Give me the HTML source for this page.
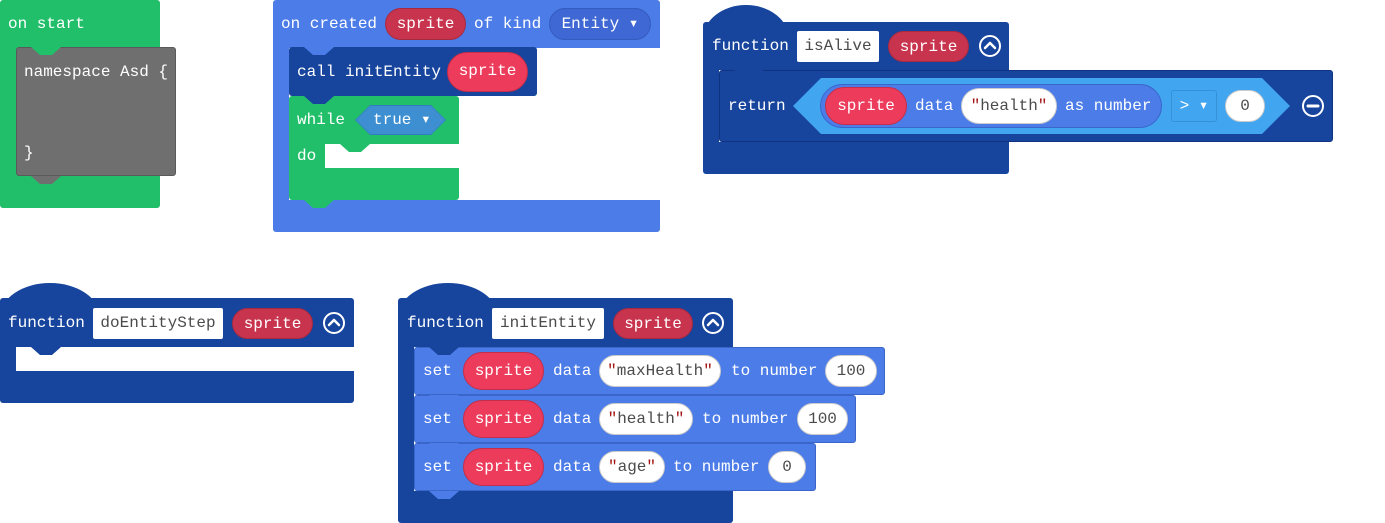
<!DOCTYPE html>
<html><head><meta charset="utf-8"><style>
body{margin:0;width:1385px;height:523px;background:#fff;position:relative;overflow:hidden;font-family:"Liberation Mono",monospace;font-size:16px;}
div{position:absolute;box-sizing:border-box;}
.t{color:#fff;white-space:nowrap;line-height:20px;}
.g{background:#22bf6b;}
.b{background:#4c7ce8;}
.d{background:#17449c;}
.pill{border-radius:20px;text-align:center;color:#fff;line-height:30px;white-space:nowrap;}
.rs{background:#c8344e;border:1px solid #a82a40;}
.rb{background:#ec3b5b;border:1px solid #c42e4a;line-height:36px;}
.w{background:#fff;color:#4b4b4b;text-align:center;white-space:nowrap;line-height:30px;}
.ws{background:#fff;color:#4b4b4b;border-radius:18px;text-align:center;line-height:30px;white-space:nowrap;border:1px solid #ccc;}
.q{color:#a31515;}
.circ{width:24px;height:24px;}
.hat{border-radius:50% 50% 0 0/100% 100% 0 0;}
</style></head><body>

<!-- on start -->
<div class="g" style="left:0;top:0;width:160px;height:208px;border-radius:3px"></div>
<div class="t" style="left:8px;top:14px">on start</div>
<div style="left:16px;top:47px;width:160px;height:129px;background:#6f6f6f;border:1px solid #5a5a5a;border-radius:3px"></div>
<div style="left:31px;top:47px;width:30px;height:8px;background:#22bf6b;clip-path:polygon(0 0,100% 0,70% 100%,30% 100%)"></div>
<div style="left:31px;top:176px;width:30px;height:8px;background:#6f6f6f;clip-path:polygon(0 0,100% 0,70% 100%,30% 100%)"></div>
<div class="t" style="left:24px;top:62px">namespace Asd {</div>
<div class="t" style="left:24px;top:143px">}</div>

<!-- on created -->
<div class="b" style="left:273px;top:0;width:387px;height:48px;border-radius:3px 3px 0 0"></div>
<div class="b" style="left:273px;top:48px;width:16px;height:152px"></div>
<div class="b" style="left:273px;top:200px;width:387px;height:32px;border-radius:0 0 3px 3px"></div>
<div class="t" style="left:281px;top:14px">on created</div>
<div class="pill rs" style="left:385px;top:8px;width:81px;height:32px">sprite</div>
<div class="t" style="left:474px;top:14px">of kind</div>
<div class="pill" style="left:549px;top:8px;width:102px;height:32px;background:#3f68d4;border:1px solid #345bc0">Entity ▾</div>
<div class="d" style="left:289px;top:47px;width:248px;height:49px;border-radius:3px"></div>
<div style="left:304px;top:47px;width:30px;height:8px;background:#4c7ce8;clip-path:polygon(0 0,100% 0,70% 100%,30% 100%)"></div>
<div class="t" style="left:297px;top:62px">call initEntity</div>
<div class="pill rb" style="left:447px;top:52px;width:81px;height:40px">sprite</div>
<div class="g" style="left:289px;top:96px;width:170px;height:48px;border-radius:3px 3px 0 0"></div>
<div class="g" style="left:289px;top:144px;width:36px;height:24px"></div>
<div class="g" style="left:289px;top:168px;width:170px;height:32px;border-radius:0 0 3px 3px"></div>
<div style="left:304px;top:96px;width:30px;height:8px;background:#17449c;clip-path:polygon(0 0,100% 0,70% 100%,30% 100%)"></div>
<div style="left:340px;top:144px;width:30px;height:8px;background:#22bf6b;clip-path:polygon(0 0,100% 0,70% 100%,30% 100%)"></div>
<div style="left:304px;top:200px;width:30px;height:8px;background:#22bf6b;clip-path:polygon(0 0,100% 0,70% 100%,30% 100%)"></div>
<div class="t" style="left:297px;top:110px">while</div>
<div class="t" style="left:297px;top:146px">do</div>
<div style="left:355px;top:105px;width:91px;height:30px;background:#2f7dbe;clip-path:polygon(0 50%,15px 0,calc(100% - 15px) 0,100% 50%,calc(100% - 15px) 100%,15px 100%)"></div>
<div style="left:356px;top:106px;width:89px;height:28px;background:#3d8fd1;clip-path:polygon(0 50%,14px 0,calc(100% - 14px) 0,100% 50%,calc(100% - 14px) 100%,14px 100%)"></div>
<div class="t" style="left:373px;top:110px">true ▾</div>

<!-- isAlive -->
<div class="d hat" style="left:703px;top:5px;width:86px;height:34px"></div>
<div class="d" style="left:703px;top:22px;width:306px;height:48px;border-radius:3px 3px 0 0"></div>
<div class="d" style="left:703px;top:70px;width:16px;height:72px"></div>
<div class="d" style="left:703px;top:142px;width:306px;height:32px;border-radius:0 0 3px 3px"></div>
<div class="t" style="left:712px;top:36px">function</div>
<div class="w" style="left:797px;top:31px;width:82px;height:31px;border-radius:2px">isAlive</div>
<div class="pill rs" style="left:888px;top:31px;width:81px;height:31px">sprite</div>
<svg class="circ" style="position:absolute;left:978px;top:34px" width="24" height="24"><circle cx="12" cy="12" r="10" fill="none" stroke="#fff" stroke-width="2"/><path d="M7 14 L12 9 L17 14" fill="none" stroke="#fff" stroke-width="2.5" stroke-linecap="round" stroke-linejoin="round"/></svg>
<div class="d" style="left:719px;top:70px;width:614px;height:72px;border:1px solid #0f3380;border-radius:3px"></div>
<div style="left:734px;top:70px;width:30px;height:8px;background:#17449c;clip-path:polygon(0 0,100% 0,70% 100%,30% 100%)"></div>
<div class="t" style="left:728px;top:96px">return</div>
<div style="left:793px;top:78px;width:497px;height:56px;background:#42a5f0;clip-path:polygon(0 50%,28px 0,calc(100% - 28px) 0,100% 50%,calc(100% - 28px) 100%,28px 100%)"></div>
<div class="b" style="left:820px;top:84px;width:342px;height:44px;border-radius:22px;border:1px solid #3a66cc"></div>
<div class="pill rb" style="left:825px;top:87px;width:82px;height:38px">sprite</div>
<div class="t" style="left:915px;top:96px">data</div>
<div class="ws" style="left:961px;top:88px;width:96px;height:36px;line-height:34px"><span class="q">"</span>health<span class="q">"</span></div>
<div class="t" style="left:1065px;top:96px">as number</div>
<div style="left:1171px;top:90px;width:46px;height:32px;background:#42a5f0;border:1px solid #3590d8;border-radius:3px;color:#fff;line-height:30px;text-align:center">&gt; ▾</div>
<div class="ws" style="left:1225px;top:90px;width:40px;height:32px;border-radius:16px">0</div>
<svg style="position:absolute;left:1301px;top:94px" width="24" height="24"><circle cx="12" cy="12" r="10" fill="none" stroke="#fff" stroke-width="2"/><path d="M7 12 L17 12" stroke="#fff" stroke-width="3" stroke-linecap="round"/></svg>

<!-- doEntityStep -->
<div class="d hat" style="left:0;top:283px;width:100px;height:34px"></div>
<div class="d" style="left:0;top:298px;width:354px;height:49px;border-radius:3px 3px 0 0"></div>
<div class="d" style="left:0;top:347px;width:16px;height:24px"></div>
<div class="d" style="left:0;top:371px;width:354px;height:32px;border-radius:0 0 3px 3px"></div>
<div style="left:31px;top:347px;width:30px;height:8px;background:#17449c;clip-path:polygon(0 0,100% 0,70% 100%,30% 100%)"></div>
<div class="t" style="left:8px;top:313px">function</div>
<div class="w" style="left:93px;top:308px;width:130px;height:31px;border-radius:2px">doEntityStep</div>
<div class="pill rs" style="left:232px;top:308px;width:81px;height:31px">sprite</div>
<svg style="position:absolute;left:322px;top:311px" width="24" height="24"><circle cx="12" cy="12" r="10" fill="none" stroke="#fff" stroke-width="2"/><path d="M7 14 L12 9 L17 14" fill="none" stroke="#fff" stroke-width="2.5" stroke-linecap="round" stroke-linejoin="round"/></svg>

<!-- initEntity -->
<div class="d hat" style="left:398px;top:283px;width:100px;height:34px"></div>
<div class="d" style="left:398px;top:298px;width:335px;height:49px;border-radius:3px 3px 0 0"></div>
<div class="d" style="left:398px;top:347px;width:16px;height:144px"></div>
<div class="d" style="left:398px;top:491px;width:335px;height:32px;border-radius:0 0 3px 3px"></div>
<div class="t" style="left:407px;top:313px">function</div>
<div class="w" style="left:492px;top:308px;width:112px;height:31px;border-radius:2px">initEntity</div>
<div class="pill rs" style="left:613px;top:308px;width:80px;height:31px">sprite</div>
<svg style="position:absolute;left:701px;top:311px" width="24" height="24"><circle cx="12" cy="12" r="10" fill="none" stroke="#fff" stroke-width="2"/><path d="M7 14 L12 9 L17 14" fill="none" stroke="#fff" stroke-width="2.5" stroke-linecap="round" stroke-linejoin="round"/></svg>

<div class="b" style="left:414px;top:347px;width:471px;height:48px;border:1px solid #3a66cc;border-radius:3px"></div>
<div class="b" style="left:414px;top:395px;width:442px;height:48px;border:1px solid #3a66cc;border-radius:3px"></div>
<div class="b" style="left:414px;top:443px;width:402px;height:48px;border:1px solid #3a66cc;border-radius:3px"></div>
<div style="left:429px;top:347px;width:30px;height:8px;background:#17449c;clip-path:polygon(0 0,100% 0,70% 100%,30% 100%)"></div>
<div style="left:429px;top:395px;width:30px;height:8px;background:#4c7ce8;border:0;clip-path:polygon(0 0,100% 0,70% 100%,30% 100%)"></div>
<div style="left:429px;top:443px;width:30px;height:8px;background:#4c7ce8;clip-path:polygon(0 0,100% 0,70% 100%,30% 100%)"></div>
<div style="left:429px;top:491px;width:30px;height:8px;background:#4c7ce8;clip-path:polygon(0 0,100% 0,70% 100%,30% 100%)"></div>

<div class="t" style="left:423px;top:361px">set</div>
<div class="pill rb" style="left:463px;top:352px;width:81px;height:38px">sprite</div>
<div class="t" style="left:553px;top:361px">data</div>
<div class="ws" style="left:599px;top:355px;width:122px;height:32px"><span class="q">"</span>maxHealth<span class="q">"</span></div>
<div class="t" style="left:731px;top:361px">to number</div>
<div class="ws" style="left:825px;top:355px;width:52px;height:32px">100</div>

<div class="t" style="left:423px;top:409px">set</div>
<div class="pill rb" style="left:463px;top:400px;width:81px;height:38px">sprite</div>
<div class="t" style="left:553px;top:409px">data</div>
<div class="ws" style="left:599px;top:403px;width:94px;height:32px"><span class="q">"</span>health<span class="q">"</span></div>
<div class="t" style="left:702px;top:409px">to number</div>
<div class="ws" style="left:797px;top:403px;width:51px;height:32px">100</div>

<div class="t" style="left:423px;top:457px">set</div>
<div class="pill rb" style="left:463px;top:448px;width:81px;height:38px">sprite</div>
<div class="t" style="left:553px;top:457px">data</div>
<div class="ws" style="left:599px;top:451px;width:66px;height:32px"><span class="q">"</span>age<span class="q">"</span></div>
<div class="t" style="left:673px;top:457px">to number</div>
<div class="ws" style="left:768px;top:451px;width:38px;height:32px">0</div>

</body></html>
